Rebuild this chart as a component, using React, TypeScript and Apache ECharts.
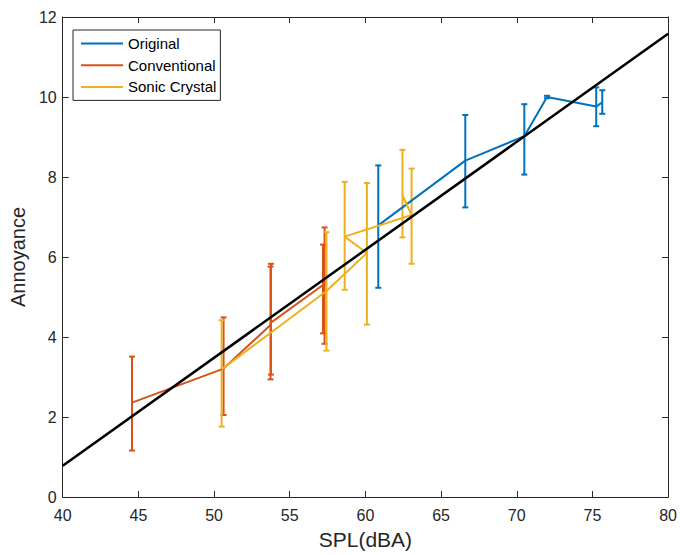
import React, { useEffect, useRef } from "react";
import * as echarts from "echarts";

const xTicks = { min: 40, max: 80, interval: 5 };
const yTicks = { min: 0, max: 12, interval: 2 };

const originalX = [60.85, 66.6, 70.5, 72.0, 75.25, 75.65];
const originalMean = [6.79, 8.41, 9.02, 10.0, 9.76, 9.87];
const originalLow = [5.23, 7.24, 8.06, 9.97, 9.27, 9.58];
const originalHigh = [8.29, 9.55, 9.82, 10.03, 10.24, 10.17];

const conventionalX = [44.58, 50.63, 53.73, 53.76, 57.2, 57.3];
const conventionalMean = [2.36, 3.21, 4.3, 4.36, 5.3, 5.4];
const conventionalLow = [1.16, 2.05, 2.94, 3.06, 4.09, 3.83];
const conventionalHigh = [3.51, 4.49, 5.76, 5.83, 6.31, 6.74];

const sonicX = [50.5, 57.43, 60.1, 58.63, 63.05, 62.45];
const sonicMean = [3.19, 5.15, 6.1, 6.51, 7.05, 7.55];
const sonicLow = [1.76, 3.66, 4.31, 5.18, 5.83, 6.49];
const sonicHigh = [4.42, 6.62, 7.85, 7.88, 8.21, 8.68];

const fitX = [40, 80];
const fitY = [0.78, 11.58];

const seriesNames = ["Original", "Conventional", "Sonic Crystal"];
const colors = ["#0072BD", "#D95319", "#EDB120"];

const AXIS = "#262626";
const FONT = "Liberation Sans, Arial, Helvetica, sans-serif";

function pairs(xs: number[], ys: number[]) {
  return xs.map((x, i) => [x, ys[i]]);
}
function triples(xs: number[], lo: number[], hi: number[]) {
  return xs.map((x, i) => [x, lo[i], hi[i]]);
}

function errSeries(name: string, color: string, data: number[][]) {
  return {
    name,
    type: "custom",
    data,
    encode: { x: 0, y: [1, 2] },
    renderItem: (params: any, api: any) => {
      const x = api.value(0);
      const lo = api.value(1);
      const hi = api.value(2);
      const p1 = api.coord([x, hi]);
      const p2 = api.coord([x, lo]);
      const w = 3;
      const style = { stroke: color, lineWidth: 2, fill: null };
      return {
        type: "group",
        children: [
          { type: "line", shape: { x1: p1[0], y1: p1[1], x2: p2[0], y2: p2[1] }, style },
          { type: "line", shape: { x1: p1[0] - w, y1: p1[1], x2: p1[0] + w, y2: p1[1] }, style },
          { type: "line", shape: { x1: p2[0] - w, y1: p2[1], x2: p2[0] + w, y2: p2[1] }, style },
        ],
      };
    },
    z: 2,
  };
}

function lineSeries(name: string, color: string, data: number[][]) {
  return {
    name,
    type: "line",
    data,
    symbol: "none",
    lineStyle: { color, width: 2 },
    itemStyle: { color },
    z: 2,
  };
}

export default function App() {
  const ref = useRef<HTMLDivElement>(null);
  useEffect(() => {
    if (!ref.current) return;
    const chart = echarts.init(ref.current, undefined, { renderer: "svg" });
    const axisCommon = {
      type: "value",
      splitLine: { show: false },
      axisLine: { show: true, onZero: false, lineStyle: { color: AXIS, width: 1 } },
      axisTick: { show: true, inside: true, length: 6, lineStyle: { color: AXIS } },
    };
    chart.setOption({
      animation: false,
      backgroundColor: "#ffffff",
      textStyle: { fontFamily: FONT },
      grid: { left: 60, right: 8, top: 17, bottom: 54, containLabel: false },
      legend: {
        data: seriesNames,
        orient: "vertical",
        left: 73,
        top: 30,
        padding: [6, 4, 6, 7],
        itemWidth: 42,
        itemHeight: 14,
        itemGap: 6.7,
        itemTextGap: 4,
        borderColor: AXIS,
        borderWidth: 1,
        backgroundColor: "#ffffff",
        itemStyle: { opacity: 0 },
        textStyle: { fontSize: 15, color: "#000", fontFamily: FONT },
      },
      xAxis: [
        {
          ...axisCommon,
          min: xTicks.min,
          max: xTicks.max,
          interval: xTicks.interval,
          position: "bottom",
          name: "SPL(dBA)",
          nameLocation: "middle",
          nameGap: 32,
          nameTextStyle: { fontSize: 21, color: AXIS, fontFamily: FONT },
          axisLabel: { color: AXIS, fontSize: 16, margin: 10, fontFamily: FONT },
        },
        {
          ...axisCommon,
          min: xTicks.min,
          max: xTicks.max,
          interval: xTicks.interval,
          position: "top",
          axisLabel: { show: false },
        },
      ],
      yAxis: [
        {
          ...axisCommon,
          min: yTicks.min,
          max: yTicks.max,
          interval: yTicks.interval,
          position: "left",
          name: "Annoyance",
          nameLocation: "middle",
          nameGap: 30,
          nameTextStyle: { fontSize: 20, color: AXIS, fontFamily: FONT },
          axisLabel: { color: AXIS, fontSize: 16, margin: 6, fontFamily: FONT },
        },
        {
          ...axisCommon,
          min: yTicks.min,
          max: yTicks.max,
          interval: yTicks.interval,
          position: "right",
          axisLabel: { show: false },
        },
      ],
      series: [
        errSeries("Original-err", colors[0], triples(originalX, originalLow, originalHigh)),
        lineSeries(seriesNames[0], colors[0], pairs(originalX, originalMean)),
        errSeries("Conventional-err", colors[1], triples(conventionalX, conventionalLow, conventionalHigh)),
        lineSeries(seriesNames[1], colors[1], pairs(conventionalX, conventionalMean)),
        errSeries("Sonic-err", colors[2], triples(sonicX, sonicLow, sonicHigh)),
        lineSeries(seriesNames[2], colors[2], pairs(sonicX, sonicMean)),
        {
          name: "Fit",
          type: "line",
          data: pairs(fitX, fitY),
          symbol: "none",
          lineStyle: { color: "#000000", width: 2.5 },
          z: 3,
        },
      ],
    });
    return () => chart.dispose();
  }, []);
  return (
    <div
      ref={ref}
      style={{ position: "fixed", left: 0, top: 0, width: 680, height: 555 }}
    />
  );
}
